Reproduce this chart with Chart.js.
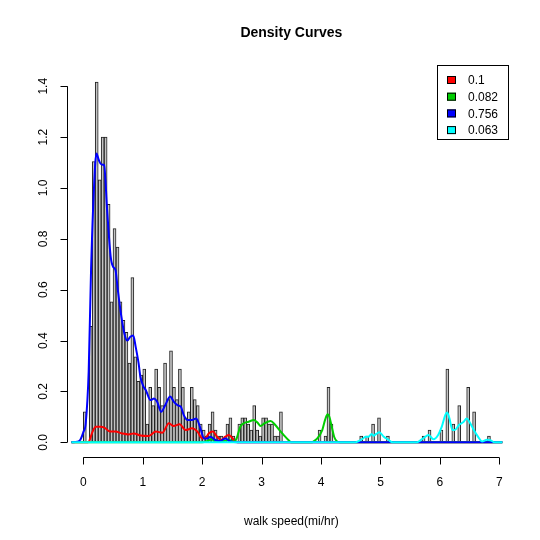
<!DOCTYPE html>
<html>
<head>
<meta charset="utf-8">
<script src="https://cdn.jsdelivr.net/npm/chart.js@4.4.1/dist/chart.umd.min.js"></script>
<style>html,body{margin:0;padding:0;background:#fff}</style>
</head>
<body>
<canvas id="chart" width="540" height="540"></canvas>
<script>
// histogram: bins of 0.05 starting at 0
const binWidth = 0.05;
const densities = [
  0.120, 0, 0.456, 1.104, 1.416, 1.032, 1.200, 1.200, 0.936, 0.552,
  0.840, 0.768, 0.552, 0.480, 0.432, 0.312, 0.648, 0.336, 0.240, 0.264,
  0.288, 0.072, 0.216, 0.144, 0.288, 0.216, 0.144, 0.312, 0.168, 0.360,
  0.216, 0.168, 0.288, 0.216, 0.096, 0.120, 0.216, 0.168, 0.144, 0.072,
  0.048, 0.024, 0.072, 0.120, 0.048, 0.024, 0.024, 0, 0.072, 0.096,
  0.024, 0, 0.072, 0.096, 0.096, 0.072, 0.048, 0.144, 0.048, 0.024,
  0.096, 0.096, 0.072, 0.072, 0.024, 0.024, 0.120, 0, 0, 0,
  0, 0, 0, 0, 0, 0, 0, 0, 0, 0.048,
  0, 0.024, 0.216, 0.072, 0, 0, 0, 0, 0, 0,
  0, 0, 0, 0.024, 0, 0.024, 0, 0.072, 0, 0.096,
  0, 0, 0.024, 0, 0, 0, 0, 0, 0, 0,
  0, 0, 0, 0, 0.024, 0, 0.048, 0, 0, 0,
  0.048, 0, 0.288, 0, 0.072, 0, 0.144, 0, 0, 0.216,
  0, 0.120, 0, 0, 0, 0, 0.024, 0, 0, 0
];

// weighted density curves [x, y]
const redCurve = [[-0.2,0],[0.05,0],[0.09,0.002],[0.15,0.039],[0.21,0.061],[0.29,0.061],[0.36,0.057],[0.45,0.042],[0.54,0.042],[0.65,0.035],[0.76,0.031],[0.85,0.035],[0.96,0.027],[1.10,0.025],[1.22,0.042],[1.33,0.038],[1.44,0.075],[1.52,0.064],[1.62,0.071],[1.72,0.048],[1.83,0.055],[1.92,0.042],[2.0,0.016],[2.06,0.018],[2.11,0.035],[2.18,0.042],[2.25,0.022],[2.32,0.009],[2.39,0.022],[2.45,0.029],[2.51,0.016],[2.56,0.002],[2.65,0],[7.05,0]];
const greenCurve = [[-0.2,0],[2.0,0],[2.08,0.004],[2.15,0.012],[2.22,0.006],[2.3,0.002],[2.38,0.006],[2.45,0.009],[2.53,0.002],[2.58,0.016],[2.64,0.061],[2.70,0.075],[2.78,0.081],[2.87,0.088],[2.94,0.075],[2.98,0.064],[3.05,0.075],[3.15,0.084],[3.23,0.068],[3.30,0.048],[3.37,0.029],[3.45,0.009],[3.50,0],[3.85,0],[3.88,0.005],[3.94,0.016],[4.02,0.048],[4.07,0.09],[4.11,0.11],[4.14,0.10],[4.18,0.061],[4.22,0.022],[4.27,0.003],[4.32,0],[7.05,0]];
const blueCurve = [[-0.2,0],[-0.1,0.002],[-0.05,0.01],[0.0,0.04],[0.04,0.075],[0.09,0.28],[0.13,0.68],[0.18,1.005],[0.22,1.136],[0.26,1.11],[0.30,1.093],[0.35,1.09],[0.40,0.913],[0.46,0.73],[0.50,0.69],[0.54,0.678],[0.58,0.6],[0.64,0.494],[0.69,0.428],[0.74,0.40],[0.79,0.415],[0.84,0.42],[0.88,0.376],[0.93,0.31],[0.96,0.258],[1.01,0.22],[1.05,0.206],[1.13,0.166],[1.19,0.172],[1.24,0.16],[1.31,0.12],[1.38,0.147],[1.46,0.18],[1.52,0.16],[1.59,0.145],[1.64,0.14],[1.69,0.107],[1.75,0.088],[1.83,0.088],[1.90,0.094],[1.97,0.055],[2.03,0.016],[2.08,0.015],[2.14,0.022],[2.22,0.009],[2.30,0.005],[2.39,0.015],[2.47,0.004],[2.6,0],[7.05,0]];
const cyanCurve = [[-0.2,0],[4.58,0],[4.64,0.006],[4.69,0.012],[4.75,0.022],[4.80,0.022],[4.85,0.033],[4.88,0.026],[4.93,0.033],[4.98,0.040],[5.05,0.023],[5.14,0.009],[5.2,0],[5.6,0],[5.64,0.003],[5.72,0.016],[5.81,0.029],[5.89,0.012],[5.97,0.029],[6.03,0.061],[6.09,0.107],[6.12,0.117],[6.16,0.094],[6.21,0.048],[6.25,0.048],[6.32,0.068],[6.40,0.081],[6.45,0.094],[6.51,0.075],[6.57,0.048],[6.64,0.022],[6.71,0.003],[6.79,0.01],[6.85,0.008],[6.92,0],[7.05,0]];

const legendLabels = ["0.1", "0.082", "0.756", "0.063"];
const curveColors = ["#ff0000", "#00cd00", "#0000ff", "#00ffff"];
const xTicks = [0, 1, 2, 3, 4, 5, 6, 7];
const yTicks = [0, 0.2, 0.4, 0.6, 0.8, 1.0, 1.2, 1.4];
const yTickLabels = ["0.0", "0.2", "0.4", "0.6", "0.8", "1.0", "1.2", "1.4"];

const FONT = '"Liberation Sans", Arial, sans-serif';

const toPts = arr => arr.map(([x, y]) => ({ x, y }));
const curves = [redCurve, greenCurve, blueCurve, cyanCurve];

const rAxes = {
  id: "rAxes",
  afterDraw(chart) {
    const { ctx, chartArea: a } = chart;
    const xs = chart.scales.x, ys = chart.scales.y;
    ctx.save();
    ctx.strokeStyle = "#000";
    ctx.fillStyle = "#000";
    ctx.lineWidth = 1;

    // x axis
    const yb = Math.round(a.bottom) + 0.5;
    ctx.beginPath();
    ctx.moveTo(xs.getPixelForValue(xTicks[0]), yb);
    ctx.lineTo(xs.getPixelForValue(xTicks[xTicks.length - 1]), yb);
    xTicks.forEach(t => {
      const px = Math.round(xs.getPixelForValue(t)) + 0.5;
      ctx.moveTo(px, yb); ctx.lineTo(px, yb + 7);
    });
    ctx.stroke();
    ctx.font = "12px " + FONT;
    ctx.textAlign = "center";
    ctx.textBaseline = "middle";
    xTicks.forEach(t => ctx.fillText(String(t), xs.getPixelForValue(t), yb + 25));

    // y axis
    const xl = Math.round(a.left) + 0.5;
    ctx.beginPath();
    ctx.moveTo(xl, ys.getPixelForValue(yTicks[0]));
    ctx.lineTo(xl, ys.getPixelForValue(yTicks[yTicks.length - 1]));
    yTicks.forEach(t => {
      const py = Math.round(ys.getPixelForValue(t)) + 0.5;
      ctx.moveTo(xl, py); ctx.lineTo(xl - 7, py);
    });
    ctx.stroke();
    yTicks.forEach((t, i) => {
      ctx.save();
      ctx.translate(xl - 24, ys.getPixelForValue(t));
      ctx.rotate(-Math.PI / 2);
      ctx.fillText(yTickLabels[i], 0, 0);
      ctx.restore();
    });

    // titles
    const cx = (a.left + a.right) / 2;
    ctx.font = "bold 14px " + FONT;
    ctx.fillText("Density Curves", cx, 33);
    ctx.font = "12px " + FONT;
    ctx.fillText("walk speed(mi/hr)", cx, 522);

    // legend
    const lx = 437, ly = 65, lw = 71, lh = 74;
    ctx.strokeRect(lx + 0.5, ly + 0.5, lw, lh);
    ctx.textAlign = "left";
    legendLabels.forEach((lab, i) => {
      const ry = ly + 15 + i * 16.7;
      ctx.fillStyle = curveColors[i];
      ctx.fillRect(lx + 10, ry - 4, 9, 8);
      ctx.strokeRect(lx + 10.5, ry - 3.5, 8, 7);
      ctx.fillStyle = "#000";
      ctx.fillText(lab, lx + 31, ry + 1);
    });
    ctx.restore();
  }
};

const datasets = [{
  type: "bar",
  data: densities.map((d, i) => ({ x: binWidth * (i + 0.5), y: d })),
  backgroundColor: "#c4c4c4",
  borderColor: "#222",
  borderWidth: 1,
  barPercentage: 1,
  categoryPercentage: 1,
  order: 10
}].concat(curves.map((c, i) => ({
  type: "line",
  data: toPts(c),
  borderColor: curveColors[i],
  borderWidth: 2,
  pointRadius: 0,
  cubicInterpolationMode: "monotone",
  fill: false,
  order: 4 - i
})));

new Chart(document.getElementById("chart"), {
  type: "bar",
  data: { datasets },
  options: {
    responsive: false,
    animation: false,
    layout: { padding: { left: 66.7, top: 67.8, right: 24, bottom: 83.3 } },
    plugins: { legend: { display: false }, tooltip: { enabled: false }, title: { display: false } },
    scales: {
      x: { type: "linear", min: -0.28, max: 7.28, offset: false, display: false },
      y: { type: "linear", min: -0.0566, max: 1.4726, display: false }
    }
  },
  plugins: [rAxes]
});
</script>
</body>
</html>
